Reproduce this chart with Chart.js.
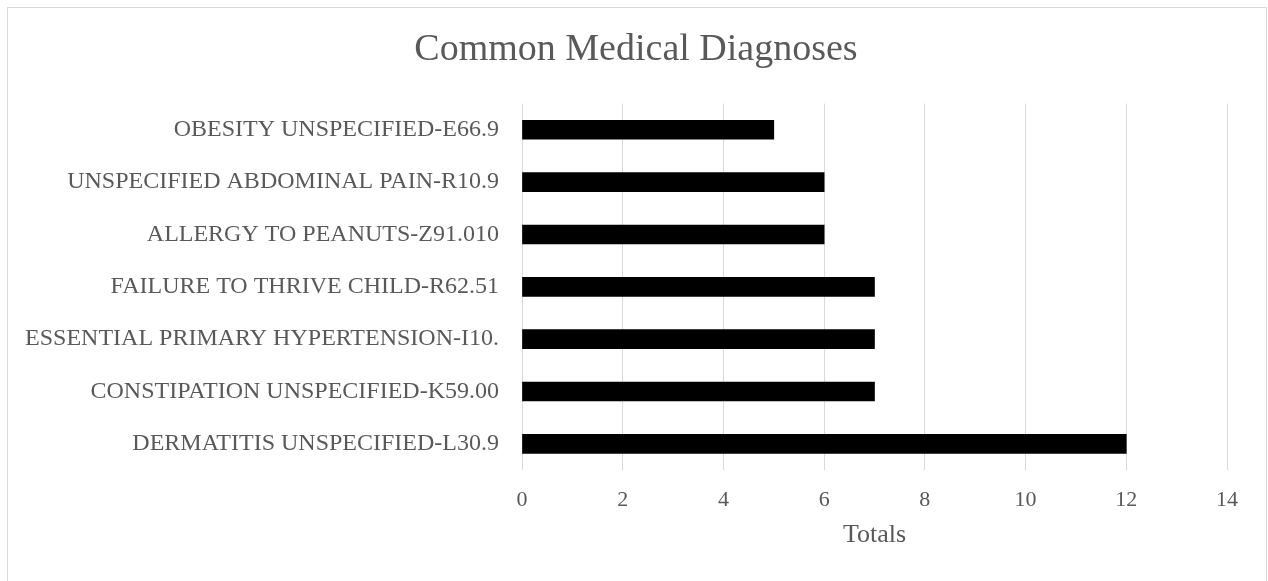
<!DOCTYPE html>
<html>
<head>
<meta charset="utf-8">
<title>Common Medical Diagnoses</title>
<script src="https://cdn.jsdelivr.net/npm/chart.js@4/dist/chart.umd.min.js"></script>
<style>
    html, body { margin: 0; padding: 0; background: #fff; overflow: hidden; }
    .frame {
        position: absolute; left: 7px; top: 7px; width: 1260px; height: 600px;
        border: 1px solid #d9d9d9; box-sizing: border-box;
    }
    .chart-box { position: absolute; left: 0; top: 0; width: 1268px; height: 581px; }
</style>
</head>
<body>
<div class="frame"></div>
<div class="chart-box"><canvas id="diagChart" width="1268" height="581"></canvas></div>
<script>
// Data (top to bottom)
const diagnoses = [
    'OBESITY UNSPECIFIED-E66.9',
    'UNSPECIFIED ABDOMINAL PAIN-R10.9',
    'ALLERGY TO PEANUTS-Z91.010',
    'FAILURE TO THRIVE CHILD-R62.51',
    'ESSENTIAL PRIMARY HYPERTENSION-I10.',
    'CONSTIPATION UNSPECIFIED-K59.00',
    'DERMATITIS UNSPECIFIED-L30.9'
];
const totals = [5, 6, 6, 7, 7, 7, 12];
const xTicks = [0, 2, 4, 6, 8, 10, 12, 14];

const serif = "'Liberation Serif', 'Times New Roman', serif";
const textGray = '#595959';
const gridGray = '#d9d9d9';

// long category labels run past the padded edge, so widen the label clip box
const unclipLabels = {
    id: 'unclipLabels',
    afterLayout(chart) {
        chart.scales.y.left = 0;
    }
};

const ctx = document.getElementById('diagChart').getContext('2d');

new Chart(ctx, {
    type: 'bar',
    data: {
        labels: diagnoses,
        datasets: [{
            label: 'Totals',
            data: totals,
            backgroundColor: '#000000',
            borderWidth: 0,
            barThickness: 19
        }]
    },
    options: {
        indexAxis: 'y',
        responsive: false,
        animation: false,
        layout: { padding: { left: 45, right: 41, top: 0, bottom: 0 } },
        plugins: {
            legend: { display: false },
            tooltip: { enabled: false },
            title: {
                display: true,
                text: 'Common Medical Diagnoses',
                color: textGray,
                font: { family: serif, size: 38, weight: 'normal' },
                padding: { top: 27, bottom: 31 }
            }
        },
        scales: {
            x: {
                min: 0,
                max: xTicks[xTicks.length - 1],
                afterBuildTicks: scale => { scale.ticks = xTicks.map(v => ({ value: v })); },
                afterFit: scale => { scale.height = 111; },
                grid: { color: gridGray, lineWidth: 1, drawTicks: false },
                border: { display: false },
                ticks: {
                    color: textGray,
                    padding: 17,
                    font: { family: serif, size: 22 }
                },
                title: {
                    display: true,
                    text: 'Totals',
                    color: textGray,
                    font: { family: serif, size: 26 },
                    padding: { top: 0, bottom: 30 }
                }
            },
            y: {
                afterFit: scale => { scale.width = 477; },
                grid: { display: false, drawTicks: false },
                border: { display: false },
                ticks: {
                    color: textGray,
                    padding: 23,
                    font: { family: serif, size: 24 }
                }
            }
        }
    },
    plugins: [unclipLabels]
});
</script>
</body>
</html>
